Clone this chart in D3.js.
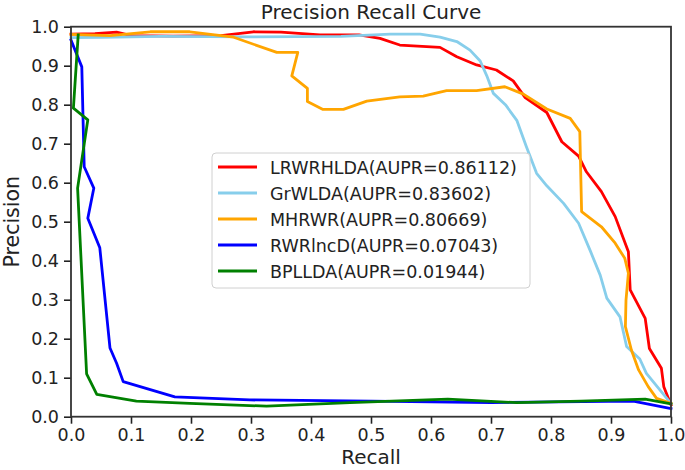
<!DOCTYPE html>
<html>
<head>
<meta charset="utf-8">
<script src="https://cdn.jsdelivr.net/npm/d3@7"></script>
<style>
  html, body { margin: 0; padding: 0; background: #fff; }
  svg { display: block; font-family: "DejaVu Sans", sans-serif; }
</style>
</head>
<body>
<svg id="chart" width="685" height="470"></svg>
<script>
// ---- data ----
const seriesNames = ["LRWRHLDA(AUPR=0.86112)", "GrWLDA(AUPR=0.83602)", "MHRWR(AUPR=0.80669)", "RWRlncD(AUPR=0.07043)", "BPLLDA(AUPR=0.01944)"];
const seriesColors = ["#ff0000", "#87ceeb", "#ffa500", "#0000ff", "#008000"];

const lrwrRecall = [0, 0.04, 0.076, 0.1, 0.17, 0.25, 0.304, 0.35, 0.415, 0.48, 0.515, 0.548, 0.615, 0.643, 0.676, 0.709, 0.737, 0.757, 0.793, 0.818, 0.846, 0.859, 0.884, 0.907, 0.929, 0.932, 0.957, 0.964, 0.984, 0.988, 1.0];
const lrwrPrecision = [0.981, 0.982, 0.986, 0.977, 0.976, 0.977, 0.987, 0.986, 0.979, 0.979, 0.970, 0.953, 0.947, 0.923, 0.902, 0.889, 0.861, 0.818, 0.780, 0.705, 0.668, 0.628, 0.577, 0.513, 0.423, 0.325, 0.252, 0.175, 0.124, 0.077, 0.030];

const grwRecall = [0, 0.05, 0.15, 0.3, 0.45, 0.532, 0.582, 0.615, 0.643, 0.665, 0.682, 0.693, 0.704, 0.724, 0.743, 0.759, 0.776, 0.793, 0.821, 0.846, 0.865, 0.882, 0.893, 0.915, 0.926, 0.948, 0.959, 1.0];
const grwPrecision = [0.972, 0.973, 0.975, 0.974, 0.975, 0.981, 0.981, 0.973, 0.962, 0.940, 0.912, 0.874, 0.829, 0.800, 0.760, 0.692, 0.624, 0.592, 0.547, 0.496, 0.427, 0.363, 0.304, 0.256, 0.180, 0.148, 0.111, 0.034];

const mhrRecall = [0, 0.065, 0.132, 0.198, 0.271, 0.343, 0.378, 0.368, 0.394, 0.394, 0.42, 0.454, 0.493, 0.548, 0.587, 0.626, 0.676, 0.723, 0.754, 0.793, 0.832, 0.848, 0.851, 0.884, 0.907, 0.923, 0.929, 0.925, 0.924, 0.934, 0.946, 0.962, 0.976, 1.0];
const mhrPrecision = [0.980, 0.977, 0.987, 0.987, 0.973, 0.934, 0.934, 0.874, 0.842, 0.808, 0.788, 0.788, 0.809, 0.820, 0.822, 0.836, 0.836, 0.846, 0.827, 0.789, 0.765, 0.731, 0.526, 0.487, 0.445, 0.406, 0.368, 0.299, 0.231, 0.171, 0.120, 0.077, 0.047, 0.034];

const rwrRecall = [0, 0.018, 0.022, 0.038, 0.028, 0.048, 0.065, 0.076, 0.087, 0.173, 0.298, 0.5, 0.7, 0.937, 1.0];
const rwrPrecision = [0.966, 0.897, 0.641, 0.586, 0.509, 0.433, 0.176, 0.137, 0.090, 0.051, 0.043, 0.040, 0.036, 0.040, 0.021];

const bplRecall = [0.012, 0.004, 0.028, 0.011, 0.026, 0.043, 0.109, 0.198, 0.326, 0.465, 0.628, 0.743, 0.85, 0.957, 1.0];
const bplPrecision = [0.979, 0.791, 0.761, 0.586, 0.110, 0.057, 0.040, 0.034, 0.027, 0.036, 0.045, 0.036, 0.040, 0.045, 0.033];

const tickValues = [0, 0.1, 0.2, 0.3, 0.4, 0.5, 0.6, 0.7, 0.8, 0.9, 1.0];
const tickLabels = ["0.0", "0.1", "0.2", "0.3", "0.4", "0.5", "0.6", "0.7", "0.8", "0.9", "1.0"];

const allRecall = [lrwrRecall, grwRecall, mhrRecall, rwrRecall, bplRecall];
const allPrecision = [lrwrPrecision, grwPrecision, mhrPrecision, rwrPrecision, bplPrecision];

// ---- layout ----
const svg = d3.select("#chart");
const pLeft = 71, pRight = 671, pTop = 26.7, pBottom = 416.7;

const x = d3.scaleLinear().domain([0, 1]).range([pLeft, pRight]);
const y = d3.scaleLinear().domain([0, 1]).range([pBottom, pTop]);

// lines
const line = d3.line().x(d => x(d[0])).y(d => y(d[1]));
const plot = svg.append("g");
allRecall.forEach((rx, i) => {
  const pts = rx.map((v, j) => [v, allPrecision[i][j]]);
  plot.append("path")
    .attr("d", line(pts))
    .attr("fill", "none")
    .attr("stroke", seriesColors[i])
    .attr("stroke-width", 2.8)
    .attr("stroke-linejoin", "round")
    .attr("stroke-linecap", "square");
});

// axes
const xAxis = d3.axisBottom(x).tickValues(tickValues).tickFormat((d, i) => tickLabels[i]).tickSize(7).tickPadding(5);
const yAxis = d3.axisLeft(y).tickValues(tickValues).tickFormat((d, i) => tickLabels[i]).tickSize(7).tickPadding(5);

const gx = svg.append("g").attr("transform", `translate(0,${pBottom})`).call(xAxis);
const gy = svg.append("g").attr("transform", `translate(${pLeft},0)`).call(yAxis);
[gx, gy].forEach(g => {
  g.select(".domain").remove();
  g.selectAll(".tick line").attr("stroke", "#222").attr("stroke-width", 1.6);
  g.selectAll(".tick text").attr("fill", "#222").style("font-size", "17.5px").style("font-family", "DejaVu Sans");
});

// frame
svg.append("rect")
  .attr("x", pLeft).attr("y", pTop)
  .attr("width", pRight - pLeft).attr("height", pBottom - pTop)
  .attr("fill", "none").attr("stroke", "#333").attr("stroke-width", 1.8);

// title and labels
svg.append("text").attr("x", (pLeft + pRight) / 2).attr("y", 19)
  .attr("text-anchor", "middle").style("font-size", "20px").attr("fill", "#222")
  .text("Precision Recall Curve");
svg.append("text").attr("x", (pLeft + pRight) / 2).attr("y", 464)
  .attr("text-anchor", "middle").style("font-size", "20px").attr("fill", "#222")
  .text("Recall");
svg.append("text").attr("transform", `translate(19,${(pTop + pBottom) / 2}) rotate(-90)`)
  .attr("text-anchor", "middle").style("font-size", "20.5px").attr("fill", "#222")
  .text("Precision");

// legend
const lg = svg.append("g");
lg.append("rect").attr("x", 212).attr("y", 153).attr("width", 318).attr("height", 135)
  .attr("rx", 4).attr("fill", "#fff").attr("fill-opacity", 0.85)
  .attr("stroke", "#d0d0d0").attr("stroke-width", 1);
seriesNames.forEach((name, i) => {
  const cy = 167 + i * 26;
  lg.append("line").attr("x1", 218).attr("x2", 257).attr("y1", cy).attr("y2", cy)
    .attr("stroke", seriesColors[i]).attr("stroke-width", 2.8);
  lg.append("text").attr("x", 270).attr("y", cy + 6.5)
    .style("font-size", "17.5px").attr("fill", "#222").text(name);
});
</script>
</body>
</html>
